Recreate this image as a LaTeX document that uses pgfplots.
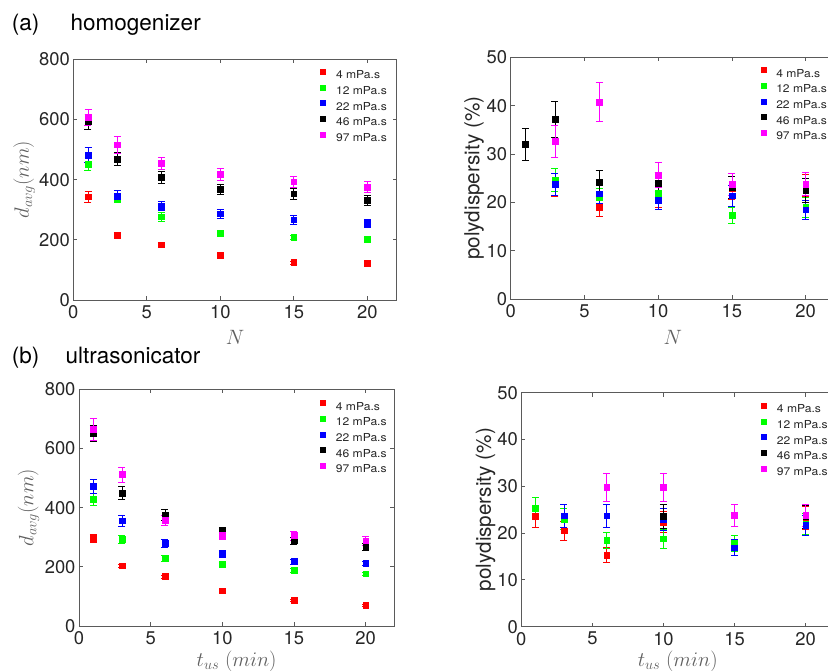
\documentclass[border=0pt]{standalone}
\usepackage{fontspec}
\setmainfont{TeX Gyre Heros}
\newfontfamily\legfam[FakeStretch=1.1]{TeX Gyre Heros}
\usepackage{pgfplots}
\pgfplotsset{compat=1.18}

\definecolor{axisgray}{HTML}{5A5A5A}
\definecolor{tickc}{HTML}{262626}
\definecolor{labgray}{HTML}{5F5F5F}
\definecolor{mred}{HTML}{FF0000}
\definecolor{mgreen}{HTML}{00FF00}
\definecolor{mblue}{HTML}{0000FF}
\definecolor{mmag}{HTML}{FF00FF}

\newcommand{\tickfont}{\fontsize{18.4}{20}\selectfont}
\newcommand{\legfont}{\legfam\fontsize{11}{12}\selectfont}

\pgfplotsset{
  panel/.style={
    scale only axis, xmin=0, xmax=22, xtick={0,5,...,20},
    tick align=inside, tick pos=both, major tick length=4pt,
    axis line style={draw=axisgray, line width=0.8pt},
    every tick/.style={axisgray, line width=0.8pt},
    ticklabel style={font=\tickfont, text=tickc},
    xticklabel shift=2pt,
    /pgf/number format/assume math mode=true,
    only marks, mark size=2.9pt,
    legend cell align=left,
    legend image code/.code={\draw[##1, mark size=2.5pt] plot coordinates {(0pt,3.9pt)};},
    legend style={draw=none, fill=none, inner sep=0pt, anchor=north west,
      font=\legfont, text=tickc, row sep=4.5pt,
      nodes={inner sep=0pt},
      /tikz/every odd column/.append style={column sep=10.5pt}},
    every axis x label/.style={anchor=base},
    every axis y label/.style={anchor=center, rotate=90},
  },
  eb/.style={error bars/.cd, y dir=both, y explicit,
    error bar style={line width=0.7pt},
    error mark options={rotate=90, mark size=3.5pt, line width=0.7pt}},
  cr/.style={color=mred, mark=square*, eb},
  cg/.style={color=mgreen, mark=square*, eb},
  cb/.style={color=mblue, mark=square*, eb},
  ck/.style={color=black, mark=square*, eb},
  cm/.style={color=mmag, mark=square*, eb},
}

\begin{document}
\begin{tikzpicture}
\useasboundingbox (0pt,0pt) rectangle (828pt,671pt);
\clip (0pt,0pt) rectangle (828pt,671pt);

\node[anchor=base west, inner sep=0pt, font=\fontsize{22.5}{26}\selectfont] at (11.7pt,640.3pt) {(a)};
\node[anchor=base west, inner sep=0pt, font=\fontsize{22.5}{26}\selectfont] at (70.5pt,640.3pt) {homogenizer};
\node[anchor=base west, inner sep=0pt, font=\fontsize{22.5}{26}\selectfont] at (11.7pt,307pt) {(b)};
\node[anchor=base west, inner sep=0pt, font=\fontsize{22.5}{26}\selectfont] at (65.5pt,307pt) {ultrasonicator};

% (a) left: mean diameter vs passes
\begin{axis}[panel, at={(73.3pt,371pt)}, anchor=south west,
  width=323.4pt, height=240.7pt,
  ymin=0, ymax=800, ytick={0,200,...,800},
  xlabel={\fontsize{21}{24}\selectfont\color{labgray}$N$},
  ylabel={\fontsize{21}{24}\selectfont\color{labgray}$d_{avg}(nm)$},
  x label style={at={(axis description cs:0.5,-0.183)}},
  y label style={at={(axis description cs:-0.152,0.5)}},
  legend style={at={(axis description cs:0.764,0.960)}}]
\addplot[cr] coordinates {(1,343)+-(0,18) (3,216)+-(0,8) (6,184)+-(0,8) (10,150)+-(0,6) (15,125)+-(0,5) (20,122)+-(0,5)};
\addplot[cg] coordinates {(1,452)+-(0,22) (3,338)+-(0,12) (6,277)+-(0,15) (10,222)+-(0,8) (15,208)+-(0,6) (20,202)+-(0,6)};
\addplot[cb] coordinates {(1,481)+-(0,25) (3,346)+-(0,17) (6,312)+-(0,15) (10,287)+-(0,15) (15,267)+-(0,15) (20,254)+-(0,14)};
\addplot[ck] coordinates {(1,593)+-(0,25) (3,468)+-(0,22) (6,409)+-(0,20) (10,369)+-(0,17) (15,353)+-(0,18) (20,331)+-(0,18)};
\addplot[cm] coordinates {(1,607)+-(0,28) (3,516)+-(0,28) (6,455)+-(0,20) (10,418)+-(0,20) (15,393)+-(0,17) (20,376)+-(0,18)};
\legend{4 mPa.s, 12 mPa.s, 22 mPa.s, 46 mPa.s, 97 mPa.s}
\end{axis}

% (a) right: polydispersity vs passes
\begin{axis}[panel, at={(510.7pt,371.7pt)}, anchor=south west,
  width=324.5pt, height=242pt,
  ymin=0, ymax=50, ytick={0,10,...,50},
  xlabel={\fontsize{21}{24}\selectfont\color{labgray}$N$},
  ylabel={\fontsize{20.7}{24}\selectfont\color{tickc}polydispersity (\%)},
  x label style={at={(axis description cs:0.5,-0.185)}},
  y label style={at={(axis description cs:-0.113,0.5)}},
  legend style={at={(axis description cs:0.770,0.959)}}]
\addplot[cr] coordinates {(3,23.7)+-(0,2.4) (6,19.1)+-(0,1.9) (10,21.2)+-(0,2.3) (15,23.0)+-(0,2.3) (20,23.5)+-(0,2.3)};
\addplot[cg] coordinates {(3,24.7)+-(0,2.4) (6,21.0)+-(0,2.0) (10,22.0)+-(0,2.2) (15,17.3)+-(0,1.6) (20,19.0)+-(0,2.0)};
\addplot[cb] coordinates {(3,23.8)+-(0,2.3) (6,21.8)+-(0,2.0) (10,20.5)+-(0,1.9) (15,21.4)+-(0,2.2) (20,18.5)+-(0,1.9)};
\addplot[ck] coordinates {(1,32.1)+-(0,3.3) (3,37.2)+-(0,3.7) (6,24.2)+-(0,2.4) (10,24.0)+-(0,2.2) (15,23.1)+-(0,2.3) (20,22.5)+-(0,2.5)};
\addplot[cm] coordinates {(3,32.6)+-(0,3.3) (6,40.8)+-(0,4.1) (10,25.7)+-(0,2.5) (15,23.8)+-(0,2.3) (20,23.8)+-(0,2.4)};
\legend{4 mPa.s, 12 mPa.s, 22 mPa.s, 46 mPa.s, 97 mPa.s}
\end{axis}

% (b) left: mean diameter vs sonication time
\begin{axis}[panel, at={(79pt,45pt)}, anchor=south west,
  width=315.3pt, height=236.7pt,
  ymin=0, ymax=800, ytick={0,200,...,800},
  xlabel={\fontsize{21}{24}\selectfont\color{labgray}$t_{us}\ (min)$},
  ylabel={\fontsize{21}{24}\selectfont\color{labgray}$d_{avg}(nm)$},
  x label style={at={(axis description cs:0.5,-0.172)}},
  y label style={at={(axis description cs:-0.160,0.5)}},
  legend style={at={(axis description cs:0.765,0.953)}}]
\addplot[cr] coordinates {(1,296)+-(0,13) (3,204)+-(0,6) (6,167)+-(0,5) (10,119)+-(0,5) (15,87)+-(0,4) (20,69)+-(0,3)};
\addplot[cg] coordinates {(1,428)+-(0,20) (3,293)+-(0,13) (6,230)+-(0,10) (10,208)+-(0,8) (15,188)+-(0,7) (20,177)+-(0,6)};
\addplot[cb] coordinates {(1,472)+-(0,25) (3,356)+-(0,18) (6,279)+-(0,13) (10,243)+-(0,12) (15,218)+-(0,8) (20,212)+-(0,7)};
\addplot[ck] coordinates {(1,651)+-(0,28) (3,449)+-(0,22) (6,375)+-(0,18) (10,322)+-(0,12) (15,288)+-(0,12) (20,269)+-(0,12)};
\addplot[cm] coordinates {(1,665)+-(0,36) (3,512)+-(0,25) (6,358)+-(0,17) (10,308)+-(0,15) (15,306)+-(0,15) (20,288)+-(0,15)};
\legend{4 mPa.s, 12 mPa.s, 22 mPa.s, 46 mPa.s, 97 mPa.s}
\end{axis}

% (b) right: polydispersity vs sonication time
\begin{axis}[panel, at={(521.3pt,44.3pt)}, anchor=south west,
  width=312.8pt, height=234pt,
  ymin=0, ymax=50, ytick={0,10,...,50},
  xlabel={\fontsize{21}{24}\selectfont\color{labgray}$t_{us}\ (min)$},
  ylabel={\fontsize{20.7}{24}\selectfont\color{tickc}polydispersity (\%)},
  x label style={at={(axis description cs:0.5,-0.171)}},
  y label style={at={(axis description cs:-0.114,0.5)}},
  legend style={at={(axis description cs:0.767,0.956)}}]
\addplot[cr] coordinates {(1,23.6)+-(0,2.3) (3,20.5)+-(0,2.1) (6,15.3)+-(0,1.6) (10,22.4)+-(0,2.3) (15,23.8)+-(0,2.4) (20,23.3)+-(0,2.5)};
\addplot[cg] coordinates {(1,25.4)+-(0,2.3) (3,23.0)+-(0,2.3) (6,18.4)+-(0,1.7) (10,18.8)+-(0,2.0) (15,17.8)+-(0,1.7) (20,22.0)+-(0,2.2)};
\addplot[cb] coordinates {(3,23.7)+-(0,2.4) (6,23.7)+-(0,2.4) (10,22.9)+-(0,2.3) (15,16.9)+-(0,1.7) (20,21.7)+-(0,2.1)};
\addplot[ck] coordinates {(10,23.6)+-(0,2.5) (15,23.8)+-(0,2.4) (20,23.5)+-(0,2.4)};
\addplot[cm] coordinates {(6,29.8)+-(0,3.0) (10,29.8)+-(0,3.0) (15,23.8)+-(0,2.4) (20,23.8)+-(0,2.4)};
\legend{4 mPa.s, 12 mPa.s, 22 mPa.s, 46 mPa.s, 97 mPa.s}
\end{axis}
\end{tikzpicture}
\end{document}
